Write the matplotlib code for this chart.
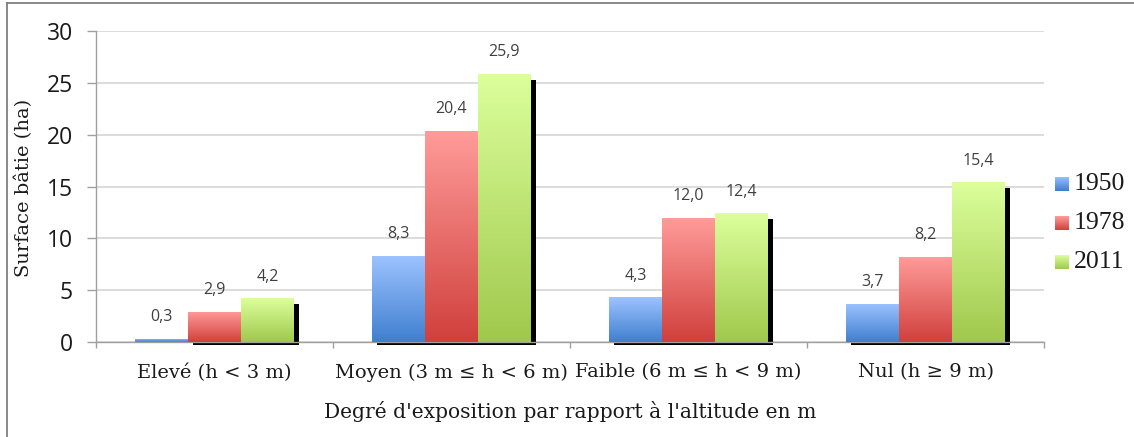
import numpy as np
import matplotlib
matplotlib.use("Agg")
import matplotlib.pyplot as plt
from matplotlib.patches import Rectangle
from matplotlib.lines import Line2D
from matplotlib.colors import LinearSegmentedColormap

categories = ["Elevé (h < 3 m)", "Moyen (3 m ≤ h < 6 m)", "Faible (6 m ≤ h < 9 m)", "Nul (h ≥ 9 m)"]
years = ["1950", "1978", "2011"]
v1950 = [0.3, 8.3, 4.3, 3.7]
v1978 = [2.9, 20.4, 12.0, 8.2]
v2011 = [4.2, 25.9, 12.4, 15.4]
series = [v1950, v1978, v2011]
labels_1950 = ["0,3", "8,3", "4,3", "3,7"]
labels_1978 = ["2,9", "20,4", "12,0", "8,2"]
labels_2011 = ["4,2", "25,9", "12,4", "15,4"]
series_labels = [labels_1950, labels_1978, labels_2011]
yticks = [0, 5, 10, 15, 20, 25, 30]

grad = [("#9dc3ff", "#3f7fcf"), ("#ff9c9a", "#d0403c"), ("#dcff9c", "#a0c84c")]

W, H = 1134, 437
fig = plt.figure(figsize=(W / 100, H / 100), dpi=100)
ax = fig.add_axes([96 / W, 95 / H, 948 / W, 311 / H])

serif = "DejaVu Serif"
legserif = "Liberation Serif"
sans = "Open Sans"
txtc = "#1a1a1a"

bw = 0.2236
n = len(years)
x = np.arange(len(categories))
px_y = 311 / 30.0
px_x = 948 / 4.0

for i, (vals, labs, (ctop, cbot)) in enumerate(zip(series, series_labels, grad)):
    cmap = LinearSegmentedColormap.from_list("g%d" % i, [cbot, ctop])
    offs = (i - (n - 1) / 2) * bw
    bars = ax.bar(x + offs, vals, width=bw, facecolor="none", edgecolor="none", zorder=3)
    for b, v, lab in zip(bars, vals, labs):
        x0 = b.get_x()
        x1 = x0 + b.get_width()
        g = np.linspace(0, 1, 256).reshape(-1, 1)
        im = ax.imshow(g, cmap=cmap, extent=[x0, x1, 0, v], origin="lower",
                       aspect="auto", zorder=3, interpolation="bilinear")
        im.set_clip_path(b)
        # shadow
        top = v - 6 / px_y
        bot = -3 / px_y
        if top > 0:
            sh = Rectangle((x0 + 5 / px_x, bot), x1 - x0, top - bot, facecolor="black",
                           edgecolor="none", zorder=2.2, clip_on=False)
            ax.add_patch(sh)
        ax.annotate(lab, (b.get_x() + b.get_width() / 2, v), xytext=(0, 15.5),
                    textcoords="offset points", ha="center", va="center",
                    fontsize=11.5, family=sans, color="#404040")

ax.set_xlim(-0.5, 3.5)
ax.set_ylim(0, 30)
ax.set_yticks(yticks)
ax.set_yticklabels([str(t) for t in yticks], family=sans, fontsize=16.5, color=txtc)
ax.yaxis.grid(True, color="#d9d9d9", lw=1.3, zorder=0)
ax.set_axisbelow(True)

ax.set_xticks(np.arange(-0.5, 4, 1.0))
ax.set_xticklabels([])
ax.set_xticks(x, minor=True)
ax.set_xticklabels(categories, minor=True, family=serif, fontsize=14, color=txtc)
ax.tick_params(axis="x", which="major", direction="out", length=4.5, color="#a0a0a0", width=1)
ax.tick_params(axis="x", which="minor", length=0, pad=15.5)
ax.tick_params(axis="y", direction="out", length=6.5, color="#a0a0a0", width=1, pad=10)

for s in ["top", "right"]:
    ax.spines[s].set_visible(False)
for s in ["left", "bottom"]:
    ax.spines[s].set_color("#a0a0a0")
    ax.spines[s].set_linewidth(1)
ax.spines["left"].set_zorder(4)

ax.set_xlabel("Degré d'exposition par rapport à l'altitude en m", family=serif,
              fontsize=14.6, color=txtc, labelpad=14)
fig.text(24 / W, (H - 187.5) / H, "Surface bâtie (ha)", rotation=90, ha="center",
         va="center", family=serif, fontsize=14, color=txtc)

# legend
leg_y = [184, 223, 262]
for yr, (ctop, cbot), ly in zip(years, grad, leg_y):
    cmap = LinearSegmentedColormap.from_list("l" + yr, [cbot, ctop])
    lax = fig.add_axes([1055 / W, (H - ly - 7) / H, 14 / W, 14 / H])
    lax.imshow(np.linspace(0, 1, 64).reshape(-1, 1), cmap=cmap, origin="lower",
               aspect="auto", extent=[0, 1, 0, 1])
    lax.set_axis_off()
    fig.text(1074 / W, (H - ly) / H, yr, ha="left", va="center", family=legserif,
             fontsize=18.5, color=txtc)

# outer border (partially cropped)
fig.add_artist(Line2D([6.5 / W, 6.5 / W], [0, (H - 2.7) / H], color="#7f7f7f", lw=1.3,
                      transform=fig.transFigure))
fig.add_artist(Line2D([6.5 / W, 1], [(H - 2.7) / H, (H - 2.7) / H], color="#7f7f7f", lw=1.3,
                      transform=fig.transFigure))

fig.savefig("out.png", dpi=100)
